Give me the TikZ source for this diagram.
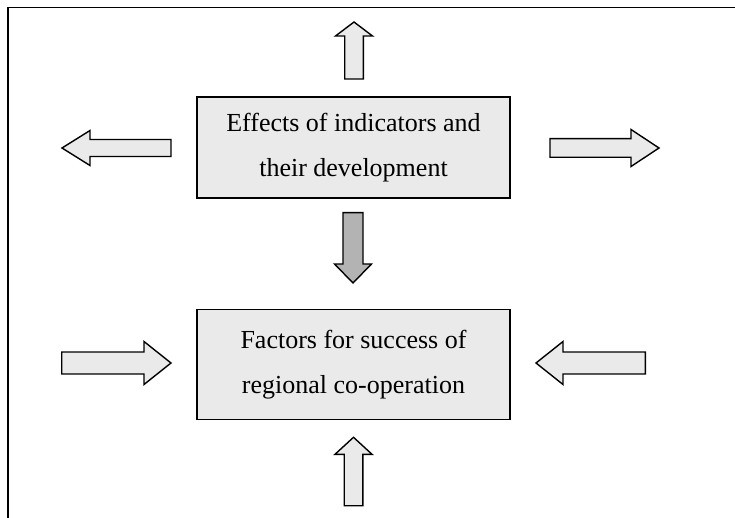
\documentclass[tikz,border=0pt]{standalone}
\usepackage{fontspec}
\setmainfont{Liberation Serif}
\usetikzlibrary{positioning}

\definecolor{boxfill}{RGB}{234,234,234}
\definecolor{arrowfill}{RGB}{179,179,179}

% tail point, direction, length, head length, half shaft, half head, style
\newcommand{\fatarrow}[7]{%
  \begin{scope}[shift={(#1)}, rotate=#2]
    \draw[#7] (0,-#5) -- (#3-#4,-#5) -- (#3-#4,-#6) -- (#3,0)
      -- (#3-#4,#6) -- (#3-#4,#5) -- (0,#5) -- cycle;
  \end{scope}}

\tikzset{
  infobox/.style={draw, line width=1.4pt, fill=boxfill, minimum width=313pt,
    align=center, font=\fontsize{26}{45}\selectfont},
  lightarrow/.style={draw, line width=1.4pt, fill=boxfill, line join=miter},
  darkarrow/.style={draw, line width=1.4pt, fill=arrowfill, line join=miter},
}

\begin{document}
\begin{tikzpicture}[x=1pt,y=-1pt]
  \useasboundingbox (0,0) rectangle (735,518);

  % frame
  \draw[line width=1.4pt] (8,518) -- (8,7.5) -- (735,7.5);

  \node[infobox, minimum height=101pt] (effects) at (353.5,147.5)
    {Effects of indicators and\\their development};
  \node[infobox, minimum height=110pt, below=110pt of effects] (factors)
    {Factors for success of\\regional co-operation};

  % arrows around the upper box
  \fatarrow{354,79}{90}{57}{14}{9.3}{18.5}{lightarrow}
  \fatarrow{171,148}{180}{109}{28}{8.5}{17.5}{lightarrow}
  \fatarrow{550,148}{0}{109}{28}{9.3}{18.5}{lightarrow}

  % between the boxes
  \fatarrow{353,212.7}{270}{70.3}{19}{10}{18.5}{darkarrow}

  % arrows around the lower box
  \fatarrow{61.7,363}{0}{109.3}{27}{11}{21.5}{lightarrow}
  \fatarrow{645.3,363}{180}{109.3}{27}{11}{21.5}{lightarrow}
  \fatarrow{353.5,505.7}{90}{68.4}{17}{9.3}{18.5}{lightarrow}
\end{tikzpicture}
\end{document}
